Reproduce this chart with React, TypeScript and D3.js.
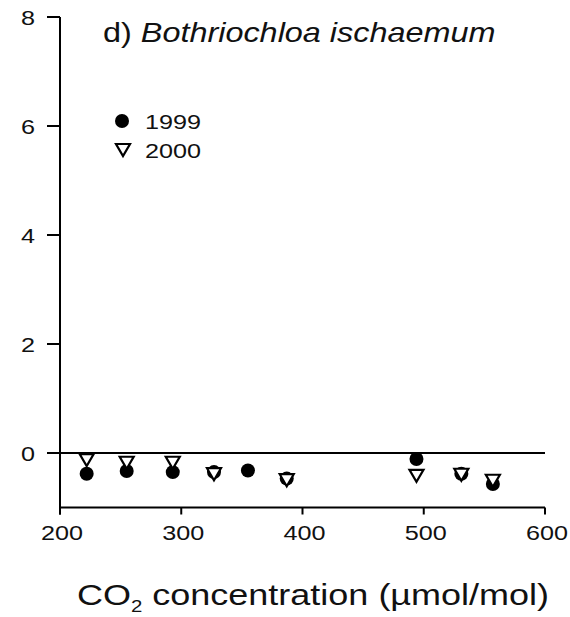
import React from 'react';
import * as d3 from 'd3';

// Response values per CO2 level, two growing seasons
const co2Levels1999 = [222, 255, 293, 327, 355, 387, 494, 531, 557];
const response1999 = [-0.38, -0.33, -0.35, -0.35, -0.32, -0.47, -0.11, -0.38, -0.57];
const co2Levels2000 = [222, 255, 293, 327, 387, 494, 531, 557];
const response2000 = [-0.12, -0.17, -0.17, -0.38, -0.49, -0.41, -0.39, -0.5];

const xTicks = [200, 300, 400, 500, 600];
const yTicks = [0, 2, 4, 6, 8];
const seriesLabels = ['1999', '2000'];
const panelLabel = 'd)';
const speciesName = 'Bothriochloa ischaemum';

const W = 570;
const H = 617;
const SX = 1.2; // horizontal text stretch
const FONT = "'Liberation Sans', Arial, Helvetica, sans-serif";
const INK = '#111';

const x = d3.scaleLinear().domain([200, 600]).range([60, 545]);
const y = d3.scaleLinear().domain([-1, 8]).range([507.5, 17]);

function T({ x, y, size, anchor = 'start', children, style }: any) {
  return (
    <text
      transform={`translate(${x},${y}) scale(${SX},1)`}
      fontSize={size}
      textAnchor={anchor}
      fontFamily={FONT}
      fill={INK}
      style={style}
    >
      {children}
    </text>
  );
}

function Dot({ cx, cy }: { cx: number; cy: number }) {
  return <circle cx={cx} cy={cy} r={7} fill="#000" />;
}

function Tri({ cx, cy }: { cx: number; cy: number }) {
  const p = d3.path();
  p.moveTo(cx - 7, cy - 5.5);
  p.lineTo(cx + 7, cy - 5.5);
  p.lineTo(cx, cy + 6.5);
  p.closePath();
  return <path d={p.toString()} fill="#fff" stroke="#000" strokeWidth={2.2} strokeLinejoin="miter" />;
}

export default function App() {
  const pts1999 = co2Levels1999.map((c, i) => ({ c, v: response1999[i] }));
  const pts2000 = co2Levels2000.map((c, i) => ({ c, v: response2000[i] }));
  const y0 = y(0);
  const yBottom = y(-1);

  return (
    <svg
      width={W}
      height={H}
      style={{ position: 'absolute', left: 0, top: 0, background: '#fff' }}
    >
      <rect width={W} height={H} fill="#fff" />

      {/* title */}
      <T x={103} y={41.5} size={27}>
        {panelLabel + ' '}
        <tspan fontStyle="italic">{speciesName}</tspan>
      </T>

      {/* y axis */}
      <line x1={x(200)} x2={x(200)} y1={y(8)} y2={yBottom + 7} stroke="#000" strokeWidth={2} />
      {yTicks.map((t) => (
        <g key={t}>
          <line x1={47} x2={x(200)} y1={y(t)} y2={y(t)} stroke="#000" strokeWidth={2} />
          <T x={35} y={y(t) + 7.5} size={21} anchor="end">
            {String(t)}
          </T>
        </g>
      ))}

      {/* zero reference line */}
      <line x1={47} x2={x(600)} y1={y0} y2={y0} stroke="#000" strokeWidth={2} />

      {/* x axis */}
      <line x1={x(200)} x2={x(600)} y1={yBottom} y2={yBottom} stroke="#000" strokeWidth={2} />
      {xTicks.map((t) => (
        <g key={t}>
          <line x1={x(t)} x2={x(t)} y1={yBottom} y2={yBottom + 7} stroke="#000" strokeWidth={2} />
          <T x={x(t) + 2} y={540} size={21} anchor="middle">
            {String(t)}
          </T>
        </g>
      ))}

      {/* x axis title */}
      <T x={77} y={605} size={30}>
        CO
        <tspan fontSize={17} dy={7}>2</tspan>
        <tspan dy={-7}>{' concentration (\u00B5mol/mol)'}</tspan>
      </T>

      {/* data: filled circles beneath open triangles */}
      {pts1999.map((d, i) => (
        <Dot key={'a' + i} cx={x(d.c)} cy={y(d.v)} />
      ))}
      {pts2000.map((d, i) => (
        <Tri key={'b' + i} cx={x(d.c)} cy={y(d.v)} />
      ))}

      {/* legend */}
      <Dot cx={122} cy={121} />
      <T x={145} y={128.5} size={21}>
        {seriesLabels[0]}
      </T>
      <Tri cx={123} cy={149.5} />
      <T x={145} y={158} size={21}>
        {seriesLabels[1]}
      </T>
    </svg>
  );
}
